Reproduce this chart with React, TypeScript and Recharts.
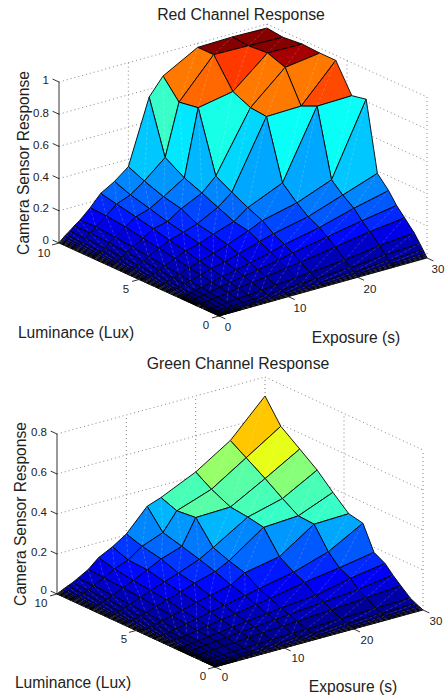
import React from 'react';
import { ScatterChart, Scatter, XAxis, YAxis } from 'recharts';

// grid of the two surfaces, back corner first
const exposures = [30, 25, 20, 15, 13, 10, 8, 6, 4.5, 3, 2.2, 1.5, 1, 0.7, 0.5, 0.35, 0.25, 0.15, 0.08, 0.02];
const luminances = [10, 9, 7.8, 6.7, 5.7, 4.7, 3.8, 3.1, 2.4, 1.9, 1.4, 0.8, 0.45, 0.25, 0.13, 0.07, 0.035, 0.01];

// one row per exposure, one column per luminance
const redResponse = [
    [.975, .963, .975, .969, .969, .795, .814, .385, .31, .24, .186, .12, .07, .04, .022, .012, .006, .002],
    [.98, .97, .98, .94, .745, .79, .373, .31, .26, .205, .16, .1, .058, .032, .017, .009, .005, .001],
    [.975, .975, .8, .75, .74, .373, .29, .236, .2, .165, .125, .072, .04, .022, .012, .006, .003, .001],
    [.857, .74, .76, .385, .33, .28, .24, .19, .155, .125, .09, .053, .03, .016, .008, .004, .002, .001],
    [.75, .42, .348, .304, .26, .217, .2, .165, .13, .105, .08, .046, .026, .014, .007, .004, .002, .001],
    [.354, .31, .267, .242, .193, .174, .15, .125, .1, .08, .06, .035, .02, .011, .006, .003, .002, .001],
    [.286, .248, .217, .186, .165, .14, .12, .1, .08, .065, .048, .028, .016, .009, .005, .002, .001, 0],
    [.236, .215, .19, .165, .14, .118, .096, .08, .063, .05, .037, .021, .012, .007, .003, .002, .001, 0],
    [.165, .16, .145, .125, .108, .09, .073, .06, .047, .037, .028, .016, .009, .005, .003, .001, .001, 0],
    [.105, .11, .1, .088, .075, .062, .05, .041, .032, .025, .018, .011, .006, .003, .002, .001, 0, 0],
    [.08, .08, .072, .065, .055, .045, .037, .03, .023, .018, .014, .008, .004, .002, .001, .001, 0, 0],
    [.055, .055, .05, .044, .038, .031, .025, .02, .016, .013, .009, .005, .003, .002, .001, 0, 0, 0],
    [.04, .036, .034, .03, .025, .021, .017, .014, .011, .008, .006, .004, .002, .001, .001, 0, 0, 0],
    [.028, .025, .023, .02, .018, .014, .012, .01, .007, .006, .004, .002, .001, .001, 0, 0, 0, 0],
    [.02, .018, .017, .015, .012, .01, .008, .007, .005, .004, .003, .002, .001, .001, 0, 0, 0, 0],
    [.014, .012, .012, .01, .009, .007, .006, .005, .004, .003, .002, .001, .001, 0, 0, 0, 0, 0],
    [.01, .009, .008, .007, .006, .005, .004, .003, .003, .002, .002, .001, 0, 0, 0, 0, 0, 0],
    [.006, .005, .005, .004, .004, .003, .003, .002, .002, .001, .001, .001, 0, 0, 0, 0, 0, 0],
    [.003, .003, .003, .002, .002, .002, .001, .001, .001, .001, 0, 0, 0, 0, 0, 0, 0, 0],
    [.001, .001, .001, .001, 0, 0, 0, 0, 0, 0, 0, 0, 0, 0, 0, 0, 0, 0],
];

const greenResponse = [
    [.705, .59, .52, .455, .38, .31, .295, .175, .145, .105, .07, .03, .016, .009, .005, .003, .001, .001],
    [.53, .48, .42, .36, .31, .305, .2, .145, .118, .08, .058, .027, .014, .008, .004, .002, .001, 0],
    [.42, .37, .325, .315, .3, .19, .145, .12, .08, .065, .045, .022, .012, .006, .003, .002, .001, 0],
    [.34, .31, .32, .21, .18, .157, .11, .087, .065, .05, .034, .017, .009, .005, .002, .001, .001, 0],
    [.315, .22, .195, .17, .145, .115, .095, .075, .056, .044, .03, .015, .008, .004, .002, .001, .001, 0],
    [.205, .18, .16, .13, .115, .09, .073, .058, .044, .034, .023, .012, .006, .003, .002, .001, 0, 0],
    [.16, .13, .125, .105, .09, .075, .06, .047, .035, .028, .019, .01, .005, .003, .001, .001, 0, 0],
    [.125, .105, .09, .08, .07, .055, .045, .035, .027, .021, .014, .007, .004, .002, .001, .001, 0, 0],
    [.08, .075, .068, .06, .052, .042, .034, .026, .02, .016, .011, .006, .003, .002, .001, 0, 0, 0],
    [.05, .05, .045, .04, .034, .028, .022, .018, .014, .011, .007, .004, .002, .001, .001, 0, 0, 0],
    [.035, .035, .033, .029, .025, .02, .016, .013, .01, .008, .005, .003, .002, .001, 0, 0, 0, 0],
    [.025, .024, .022, .02, .017, .014, .011, .009, .007, .005, .004, .002, .001, .001, 0, 0, 0, 0],
    [.017, .016, .015, .013, .011, .009, .007, .006, .005, .004, .002, .001, .001, 0, 0, 0, 0, 0],
    [.012, .011, .01, .009, .008, .006, .005, .004, .003, .002, .002, .001, 0, 0, 0, 0, 0, 0],
    [.008, .008, .007, .006, .005, .004, .004, .003, .002, .002, .001, .001, 0, 0, 0, 0, 0, 0],
    [.006, .005, .005, .004, .004, .003, .002, .002, .002, .001, .001, 0, 0, 0, 0, 0, 0, 0],
    [.004, .004, .003, .003, .003, .002, .002, .001, .001, .001, .001, 0, 0, 0, 0, 0, 0, 0],
    [.002, .002, .002, .002, .002, .001, .001, .001, .001, 0, 0, 0, 0, 0, 0, 0, 0, 0],
    [.001, .001, .001, .001, .001, 0, 0, 0, 0, 0, 0, 0, 0, 0, 0, 0, 0, 0],
    [0, 0, 0, 0, 0, 0, 0, 0, 0, 0, 0, 0, 0, 0, 0, 0, 0, 0],
];

const exposureTicks = [0, 10, 20, 30];
const luminanceTicks = [0, 5, 10];
const redResponseTicks = [0, 0.2, 0.4, 0.6, 0.8, 1];
const greenResponseTicks = [0, 0.2, 0.4, 0.6, 0.8];

const FONT = '"Liberation Sans", Arial, sans-serif';

// MATLAB jet, 64 levels
const jet = (v: number) => {
    const x = (Math.min(63, Math.floor(v * 64)) + 0.5) / 64;
    const ch = (c: number) => Math.round(255 * Math.max(0, Math.min(1, c)));
    const r = ch(Math.min(4 * x - 1.5, -4 * x + 4.5));
    const g = ch(Math.min(4 * x - 0.5, -4 * x + 3.5));
    const b = ch(Math.min(4 * x + 0.5, -4 * x + 2.5));
    return `rgb(${r},${g},${b})`;
};

const LabelMark = (props: any) => {
    const { cx, cy, payload } = props;
    return (
        <text
            x={cx}
            y={cy}
            textAnchor={payload.anchor || 'middle'}
            dominantBaseline="central"
            fontFamily={FONT}
            fontSize={payload.size}
            fill="#222"
            transform={payload.rotate ? `rotate(${payload.rotate} ${cx} ${cy})` : undefined}
        >
            {payload.text}
        </text>
    );
};

const NoMark = () => null;

const SurfaceChart = ({ top, height, view, values, zTicks, zTop, texts }: any) => {
    const project = (e: number, l: number, z: number) => ({
        sx: view.x0 + (view.ex * e) / 30 + (view.lx * l) / 10,
        sy: view.y0 + (view.ey * e) / 30 + (view.ly * l) / 10 - view.zs * z,
    });

    const zMax = Math.max(...values.flat());
    const quads: any[] = [];
    const colors: string[] = [];
    for (let i = 0; i < exposures.length - 1; i++) {
        for (let j = 0; j < luminances.length - 1; j++) {
            quads.push(
                project(exposures[i], luminances[j], values[i][j]),
                project(exposures[i], luminances[j + 1], values[i][j + 1]),
                project(exposures[i + 1], luminances[j + 1], values[i + 1][j + 1]),
                project(exposures[i + 1], luminances[j], values[i + 1][j]),
            );
            // faceted shading takes the colour of the front vertex
            colors.push(jet(values[i + 1][j + 1] / zMax));
        }
    }

    // dotted box walls
    const wall: any[] = [];
    zTicks.forEach((z: number) => {
        if (z > 0) wall.push(project(0, 10, z), project(30, 10, z), project(30, 10, z), project(30, 0, z));
    });
    [10, 20, 30].forEach((e) => wall.push(project(e, 10, 0), project(e, 10, zTop)));
    [5, 0].forEach((l) => wall.push(project(30, l, 0), project(30, l, zTop)));

    // solid axes and their tick marks
    const axes: any[] = [
        project(0, 10, 0), project(0, 10, zTop),
        project(0, 10, 0), project(0, 0, 0),
        project(0, 0, 0), project(30, 0, 0),
    ];
    zTicks.forEach((z: number) => axes.push(project(0, 10, z), project(0, 10.4, z)));
    exposureTicks.forEach((e) => axes.push(project(e, 0, 0), project(e, -0.4, 0)));
    luminanceTicks.forEach((l) => axes.push(project(0, l, 0), project(-1, l, 0)));

    const drawSegments = (color: string, width: number, dash?: string) => (p: any) => (
        <g>
            {p.points.map((pt: any, i: number) =>
                i % 2 === 0 ? (
                    <line
                        key={i}
                        x1={pt.x}
                        y1={pt.y}
                        x2={p.points[i + 1].x}
                        y2={p.points[i + 1].y}
                        stroke={color}
                        strokeWidth={width}
                        strokeDasharray={dash}
                    />
                ) : null,
            )}
        </g>
    );

    const drawQuads = (p: any) => {
        const out: any[] = [];
        for (let k = 0; k + 3 < p.points.length; k += 4) {
            const [a, b, c, d] = p.points.slice(k, k + 4);
            // the light seam only shows on faces that are big enough
            const seam = Math.hypot(a.x - c.x, a.y - c.y) > 10;
            out.push(
                <g key={k}>
                    <polygon
                        points={`${a.x},${a.y} ${b.x},${b.y} ${c.x},${c.y} ${d.x},${d.y}`}
                        fill={colors[k / 4]}
                        stroke="#000"
                        strokeWidth={0.9}
                        strokeLinejoin="round"
                    />
                    {seam && (
                        <line x1={a.x} y1={a.y} x2={c.x} y2={c.y} stroke="#fff" strokeOpacity={0.3} strokeWidth={0.6} strokeDasharray="3 2" />
                    )}
                </g>,
            );
        }
        return <g>{out}</g>;
    };

    return (
        <div style={{ position: 'absolute', left: 0, top, width: 445, height }}>
            <ScatterChart width={445} height={height} margin={{ top: 0, right: 0, bottom: 0, left: 0 }}>
                <XAxis type="number" dataKey="sx" domain={[0, 445]} hide />
                <YAxis type="number" dataKey="sy" domain={[top, top + height]} reversed hide />
                <Scatter data={wall} line={drawSegments('#666', 0.8, '1 3')} shape={NoMark} isAnimationActive={false} />
                <Scatter data={axes} line={drawSegments('#000', 0.8)} shape={NoMark} isAnimationActive={false} />
                <Scatter data={quads} line={drawQuads} shape={NoMark} isAnimationActive={false} />
                <Scatter data={texts} shape={LabelMark} isAnimationActive={false} />
            </ScatterChart>
        </div>
    );
};

const redView = { x0: 219, y0: 316, ex: 208, ey: -58, lx: -160, ly: -73, zs: 161 };
const greenView = { x0: 215, y0: 667, ex: 208, ey: -57, lx: -158, ly: -73, zs: 200 };

const redTexts = [
    { sx: 241, sy: 14, text: 'Red Channel Response', size: 15.8 },
    { sx: 76, sy: 332, text: 'Luminance (Lux)', size: 15.6 },
    { sx: 356, sy: 337, text: 'Exposure (s)', size: 15.6 },
    { sx: 23, sy: 163, text: 'Camera Sensor Response', size: 15.6, rotate: -90 },
    ...redResponseTicks.map((t, i) => ({ sx: 49, sy: [240, 208, 177, 145, 113, 80][i], text: String(t), size: 11.5, anchor: 'end' })),
    ...luminanceTicks.map((t, i) => ({ sx: [206, 126, 44][i], sy: [325, 289, 253][i], text: String(t), size: 11.5 })),
    ...exposureTicks.map((t, i) => ({ sx: [228, 300, 370, 438][i], sy: [327, 308, 289, 269][i], text: String(t), size: 11.5 })),
];

const greenTexts = [
    { sx: 238, sy: 363, text: 'Green Channel Response', size: 15.8 },
    { sx: 73, sy: 682, text: 'Luminance (Lux)', size: 15.6 },
    { sx: 353, sy: 686, text: 'Exposure (s)', size: 15.6 },
    { sx: 20, sy: 514, text: 'Camera Sensor Response', size: 15.6, rotate: -90 },
    ...greenResponseTicks.map((t, i) => ({ sx: 47, sy: [590, 552, 512, 472, 432][i], text: String(t), size: 11.5, anchor: 'end' })),
    ...luminanceTicks.map((t, i) => ({ sx: [203, 124, 41][i], sy: [676, 639, 603][i], text: String(t), size: 11.5 })),
    ...exposureTicks.map((t, i) => ({ sx: [225, 298, 367, 436][i], sy: [677, 658, 640, 621][i], text: String(t), size: 11.5 })),
];

export default function App() {
    return (
        <div style={{ position: 'absolute', left: 0, top: 0, width: 445, height: 695, background: '#fff' }}>
            <SurfaceChart top={0} height={347} view={redView} values={redResponse} zTicks={redResponseTicks} zTop={1} texts={redTexts} />
            <SurfaceChart top={347} height={348} view={greenView} values={greenResponse} zTicks={greenResponseTicks} zTop={0.8} texts={greenTexts} />
        </div>
    );
}
